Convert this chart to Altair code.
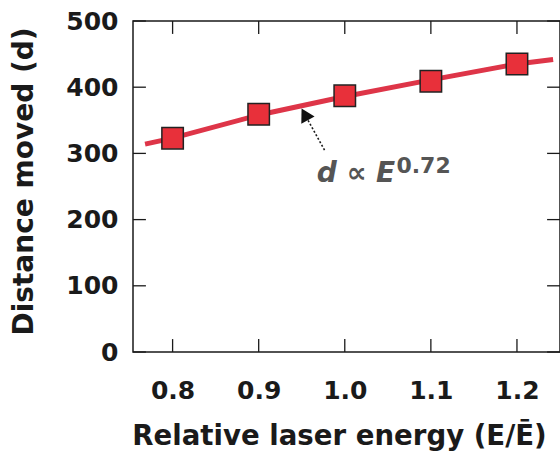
import altair as alt
import pandas as pd

# Measured points
energy = [0.8, 0.9, 1.0, 1.1, 1.2]
distance = [323, 359, 387, 409, 435]

# Power-law fit curve (d ∝ E^0.72), sampled along its drawn path
fit_energy = [0.768, 0.8, 0.9, 1.0, 1.1, 1.2, 1.242]
fit_distance = [314, 323, 358, 386, 411, 435, 442]

# Annotation anchors (data units)
arrow_tail = (0.9765, 305)
arrow_head = (0.9535, 359)
label_main = (0.9673, 257)
label_sup = (1.060, 270)

x_ticks = [0.8, 0.9, 1.0, 1.1, 1.2]
y_ticks = [0, 100, 200, 300, 400, 500]

X_MIN, X_MAX = 0.754, 1.25
Y_MIN, Y_MAX = 0, 500
# Inward tick length expressed in data units of each axis
X_TICK_LEN = 0.015
Y_TICK_LEN = 19.5

FONT = "DejaVu Sans"
RED_LINE = "#de3548"
RED_FILL = "#e8303a"
INK = "#1a1a1a"

xs = alt.Scale(domain=[X_MIN, X_MAX], nice=False, zero=False)
ys = alt.Scale(domain=[Y_MIN, Y_MAX], nice=False)

pts = pd.DataFrame({"E": energy, "d": distance})
fit = pd.DataFrame({"E": fit_energy, "d": fit_distance})

# Tick segments on all four edges of the frame, pointing inward
tick_rows = []
for v in x_ticks:
    tick_rows.append({"x": v, "x2": v, "y": Y_MIN, "y2": Y_MIN + Y_TICK_LEN})
    tick_rows.append({"x": v, "x2": v, "y": Y_MAX, "y2": Y_MAX - Y_TICK_LEN})
for v in y_ticks:
    tick_rows.append({"x": X_MIN, "x2": X_MIN + X_TICK_LEN, "y": v, "y2": v})
    tick_rows.append({"x": X_MAX, "x2": X_MAX - X_TICK_LEN, "y": v, "y2": v})
ticks = pd.DataFrame(tick_rows)

x_axis = alt.Axis(
    orient="bottom", values=x_ticks, format=".1f", ticks=False,
    domain=False, grid=False,
    labelFont=FONT, labelFontWeight="bold", labelFontSize=25, labelColor=INK,
    labelPadding=26, labelFlush=False,
    title="Relative laser energy (E/Ē)", titleFont=FONT, titleFontWeight="bold",
    titleFontSize=27.6, titleColor=INK, titlePadding=19, titleX=206,
)
y_axis = alt.Axis(
    orient="left", values=y_ticks, ticks=False, domain=False, grid=False,
    labelFont=FONT, labelFontWeight="bold", labelFontSize=25, labelColor=INK,
    labelPadding=15, labelFlush=False,
    title="Distance moved (d)", titleFont=FONT, titleFontWeight="bold",
    titleFontSize=28, titleColor=INK, titlePadding=27, titleY=160,
)

fit_line = alt.Chart(fit).mark_line(color=RED_LINE, strokeWidth=5).encode(
    x=alt.X("E:Q", scale=xs, axis=x_axis),
    y=alt.Y("d:Q", scale=ys, axis=y_axis),
)

squares = alt.Chart(pts).mark_point(
    shape="square", filled=True, fill=RED_FILL, stroke="#222222",
    strokeWidth=1.5, size=460, opacity=1,
).encode(x=alt.X("E:Q", scale=xs), y=alt.Y("d:Q", scale=ys))

tick_marks = alt.Chart(ticks).mark_rule(color=INK, strokeWidth=1.3).encode(
    x=alt.X("x:Q", scale=xs), x2="x2:Q",
    y=alt.Y("y:Q", scale=ys), y2="y2:Q",
)

arrow_df = pd.DataFrame({
    "x": [arrow_tail[0]], "y": [arrow_tail[1]],
    "x2": [arrow_head[0]], "y2": [arrow_head[1]],
})
shaft = alt.Chart(arrow_df).mark_rule(
    color=INK, strokeWidth=1.6, strokeDash=[2, 2]
).encode(
    x=alt.X("x:Q", scale=xs), y=alt.Y("y:Q", scale=ys),
    x2="x2:Q", y2="y2:Q",
)
head = alt.Chart(arrow_df).mark_point(
    shape="triangle-up", filled=True, color="#111111", size=230,
    angle=331, opacity=1,
).encode(x=alt.X("x2:Q", scale=xs), y=alt.Y("y2:Q", scale=ys))

main_label = alt.Chart(pd.DataFrame({
    "x": [label_main[0]], "y": [label_main[1]], "t": ["d ∝ E"]
})).mark_text(
    align="left", baseline="alphabetic", font=FONT, fontSize=28,
    fontWeight="bold", fontStyle="italic", color="#555555",
).encode(x=alt.X("x:Q", scale=xs), y=alt.Y("y:Q", scale=ys), text="t:N")
sup_label = alt.Chart(pd.DataFrame({
    "x": [label_sup[0]], "y": [label_sup[1]], "t": ["0.72"]
})).mark_text(
    align="left", baseline="alphabetic", font=FONT, fontSize=22,
    fontWeight="bold", color="#555555",
).encode(x=alt.X("x:Q", scale=xs), y=alt.Y("y:Q", scale=ys), text="t:N")

chart = alt.layer(
    fit_line, squares, tick_marks, shaft, head, main_label, sup_label,
).properties(
    width=427, height=331,
    autosize=alt.AutoSizeParams(type="none"),
    padding={"left": 133, "top": 21, "right": 0, "bottom": 99},
    background="white",
).configure_view(
    stroke=INK, strokeWidth=1.5
)

chart.save("out.html", embed_options={"renderer": "svg", "actions": False})
